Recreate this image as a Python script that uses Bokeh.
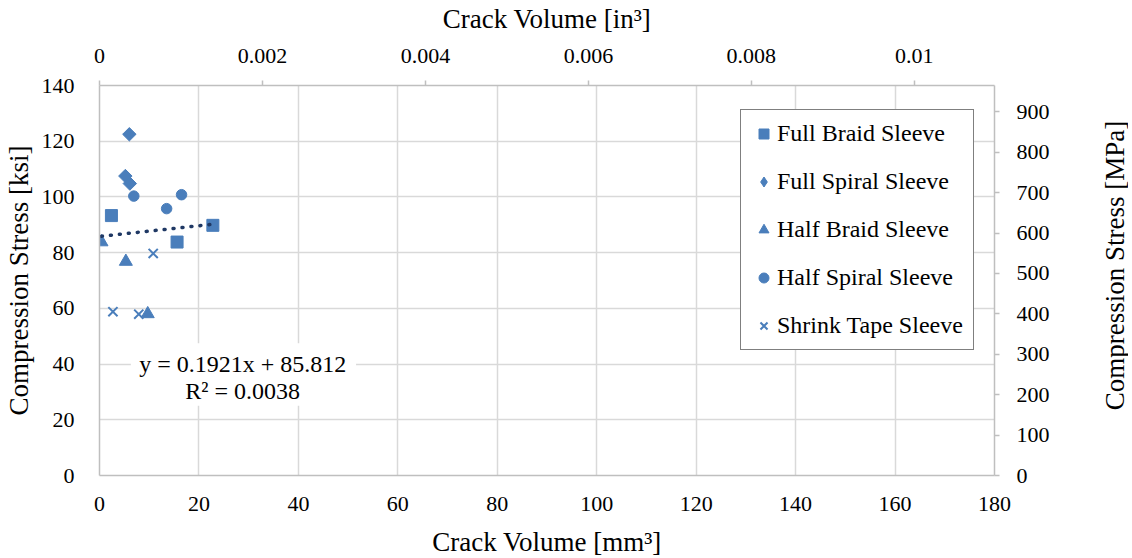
import math
from bokeh.plotting import figure
from bokeh.layouts import row
from bokeh.models import (Range1d, LinearAxis, FixedTicker, Legend, LegendItem,
                          Label, BoxAnnotation, CustomJSTickFormatter)
from bokeh.embed import file_html
from bokeh.resources import INLINE

# ---------------- data ----------------
full_braid_x = [2.4, 15.6, 22.8]
full_braid_y = [93.3, 83.8, 89.8]
full_spiral_x = [6.0, 5.2, 6.1]
full_spiral_y = [122.5, 107.5, 104.8]
half_braid_x = [0.4, 5.3, 9.7]
half_braid_y = [83.8, 76.8, 58.0]
half_spiral_x = [6.9, 13.5, 16.5]
half_spiral_y = [100.3, 95.8, 100.8]
shrink_tape_x = [10.8, 2.7, 7.9]
shrink_tape_y = [79.7, 58.8, 57.9]

trend_slope = 0.1921
trend_intercept = 85.812
trend_text = "y = 0.1921x + 85.812"
r2_text = "R² = 0.0038"

x_ticks = [0, 20, 40, 60, 80, 100, 120, 140, 160, 180]
y_ticks = [0, 20, 40, 60, 80, 100, 120, 140]
in3_ticks = [0, 0.002, 0.004, 0.006, 0.008, 0.01]
mpa_ticks = [0, 100, 200, 300, 400, 500, 600, 700, 800, 900]

MM3_TO_IN3 = 6.10237e-5
KSI_TO_MPA = 6.89476
X_MAX = 180
Y_MAX = 140

# ---------------- style ----------------
FONT = "Liberation Serif"
BLUE = "#4a7ebb"
TREND = "#1f3864"
GRID = "#d9d9d9"
AXIS = "#bfbfbf"
TICK_FS = "22px"
TEXT_FS = "24px"
TITLE_FS = "27px"

FIG_H = 556

p = figure(frame_width=895, frame_height=390,
           x_range=Range1d(0, X_MAX), y_range=Range1d(0, Y_MAX),
           output_backend="svg", toolbar_location=None,
           min_border_left=99, min_border_right=70,
           min_border_top=84, min_border_bottom=82)
p.outline_line_color = None
p.background_fill_color = "white"
p.border_fill_color = "white"

p.extra_x_ranges = {"in3": Range1d(0, X_MAX * MM3_TO_IN3)}
p.extra_y_ranges = {"mpa": Range1d(0, Y_MAX * KSI_TO_MPA)}

def style_axis(ax, ticks_out):
    ax.axis_line_color = AXIS
    ax.axis_line_width = 1.5
    ax.major_tick_line_color = AXIS
    ax.major_tick_line_width = 1.5
    ax.major_tick_out = ticks_out
    ax.major_tick_in = 0
    ax.minor_tick_line_color = None
    ax.major_label_text_font = FONT
    ax.major_label_text_font_size = TICK_FS
    ax.major_label_text_color = "black"
    ax.axis_label_text_font = FONT
    ax.axis_label_text_font_size = TITLE_FS
    ax.axis_label_text_font_style = "normal"
    ax.axis_label_text_color = "black"

xa = p.xaxis[0]
xa.ticker = FixedTicker(ticks=x_ticks)
xa.axis_label = "Crack Volume [mm³]"
style_axis(xa, 0)
xa.major_label_standoff = 21
xa.axis_label_standoff = 13

ya = p.yaxis[0]
ya.ticker = FixedTicker(ticks=y_ticks)
ya.axis_label = "Compression Stress [ksi]"
style_axis(ya, 0)
ya.major_label_standoff = 25

p.xgrid.ticker = FixedTicker(ticks=x_ticks)
p.ygrid.ticker = FixedTicker(ticks=y_ticks)
p.xgrid.grid_line_color = GRID
p.ygrid.grid_line_color = GRID
p.xgrid.grid_line_width = 1.5
p.ygrid.grid_line_width = 1.5

top = LinearAxis(x_range_name="in3", ticker=FixedTicker(ticks=in3_ticks),
                 formatter=CustomJSTickFormatter(code="return String(parseFloat(tick.toFixed(4)));"),
                 axis_label="Crack Volume [in³]")
style_axis(top, 5)
top.major_label_standoff = 18
top.axis_label_standoff = 12
p.add_layout(top, "above")

right = LinearAxis(y_range_name="mpa", ticker=FixedTicker(ticks=mpa_ticks))
style_axis(right, 5)
right.major_label_standoff = 17
p.add_layout(right, "right")

# ---------------- glyphs ----------------
r_fb = p.scatter(full_braid_x, full_braid_y, marker="square", size=12,
                 fill_color=BLUE, line_color=BLUE)
r_fs = p.scatter(full_spiral_x, full_spiral_y, marker="square", size=9.5, angle=math.pi / 4,
                 fill_color=BLUE, line_color=BLUE)
r_fs_leg = p.scatter(full_spiral_x, full_spiral_y, marker="diamond",
                     fill_color=BLUE, line_color=BLUE, visible=False)
r_hb = p.scatter(half_braid_x, half_braid_y, marker="triangle", size=13,
                 fill_color=BLUE, line_color=BLUE)
r_hs = p.scatter(half_spiral_x, half_spiral_y, marker="circle", size=10.5,
                 fill_color=BLUE, line_color=BLUE)
r_st = p.scatter(shrink_tape_x, shrink_tape_y, marker="x", size=13,
                 line_color=BLUE, line_width=2)

all_x = full_braid_x + full_spiral_x + half_braid_x + half_spiral_x + shrink_tape_x
tx = [min(all_x), max(all_x)]
ty = [trend_slope * v + trend_intercept for v in tx]
p.line(tx, ty, line_color=TREND, line_width=3.5, line_dash="1 8", line_cap="round")

# equation label with white background
p.add_layout(BoxAnnotation(left=6.3, right=51.6, bottom=25.0, top=47.5,
                           fill_color="white", fill_alpha=1, line_color=None))
p.add_layout(Label(x=28.8, y=40.2, text=trend_text, text_align="center",
                   text_baseline="middle", text_font=FONT, text_font_size=TEXT_FS,
                   text_color="black"))
p.add_layout(Label(x=28.8, y=30.5, text=r2_text, text_align="center",
                   text_baseline="middle", text_font=FONT, text_font_size=TEXT_FS,
                   text_color="black"))

# ---------------- legend ----------------
legend = Legend(items=[
    LegendItem(label="Full Braid Sleeve", renderers=[r_fb]),
    LegendItem(label="Full Spiral Sleeve", renderers=[r_fs_leg]),
    LegendItem(label="Half Braid Sleeve", renderers=[r_hb]),
    LegendItem(label="Half Spiral Sleeve", renderers=[r_hs]),
    LegendItem(label="Shrink Tape Sleeve", renderers=[r_st]),
], location=(641, 125))
legend.label_text_font = FONT
legend.label_text_font_size = TEXT_FS
legend.label_text_color = "black"
legend.glyph_width = 25
legend.glyph_height = 25
legend.label_height = 25
legend.spacing = 21
legend.padding = 10
legend.margin = 0
legend.label_standoff = 1
legend.border_line_color = "black"
legend.border_line_width = 1.3
legend.background_fill_color = "white"
legend.background_fill_alpha = 1
legend.inactive_fill_alpha = 0
p.add_layout(legend, "center")

# ---------------- right-hand title strip ----------------
p2 = figure(width=64, height=FIG_H, x_range=Range1d(0, 1), y_range=Range1d(0, 1),
            output_backend="svg", toolbar_location=None, min_border=0)
p2.axis.visible = False
p2.grid.visible = False
p2.outline_line_color = None
p2.add_layout(Label(x=50, y=207, x_units="screen", y_units="screen",
                    text="Compression Stress [MPa]", angle=math.pi / 2,
                    text_align="center", text_baseline="middle",
                    text_font=FONT, text_font_size=TITLE_FS, text_color="black"))

layout = row(p, p2, spacing=0)
open("out.html", "w").write(file_html(layout, INLINE))
